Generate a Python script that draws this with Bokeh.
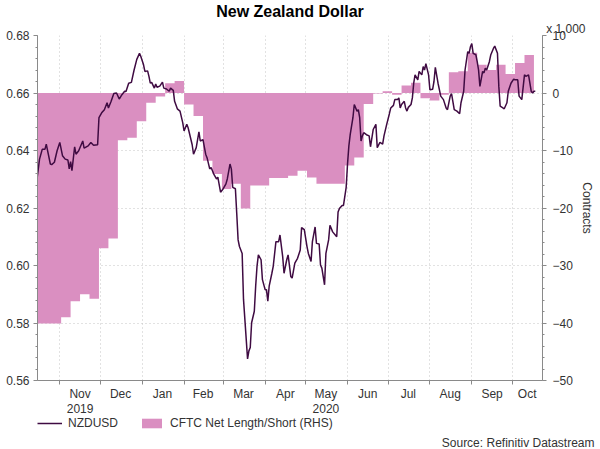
import numpy as np
import pandas as pd
from bokeh.plotting import figure
from bokeh.layouts import column
from bokeh.models import (Range1d, LinearAxis, DatetimeAxis, FixedTicker, Title,
                          Legend, LegendItem, PrintfTickFormatter)
from bokeh.embed import file_html
from bokeh.resources import INLINE

# ---------------- data ----------------
nzd_dates = [
    "2019-10-15", "2019-10-17", "2019-10-19", "2019-10-21", "2019-10-22", "2019-10-23", "2019-10-25",
    "2019-10-26", "2019-10-28", "2019-10-30", "2019-11-01", "2019-11-03", "2019-11-05", "2019-11-07",
    "2019-11-08", "2019-11-09", "2019-11-10", "2019-11-12", "2019-11-13", "2019-11-15", "2019-11-18",
    "2019-11-19", "2019-11-22", "2019-11-24", "2019-11-26", "2019-11-29", "2019-11-30", "2019-12-02",
    "2019-12-04", "2019-12-06", "2019-12-07", "2019-12-09", "2019-12-11", "2019-12-13", "2019-12-15",
    "2019-12-17", "2019-12-19", "2019-12-20", "2019-12-22", "2019-12-24", "2019-12-26", "2019-12-28",
    "2019-12-30", "2019-12-31", "2020-01-02", "2020-01-03", "2020-01-05", "2020-01-06", "2020-01-07",
    "2020-01-08", "2020-01-10", "2020-01-11", "2020-01-12", "2020-01-14", "2020-01-16", "2020-01-17",
    "2020-01-19", "2020-01-21", "2020-01-22", "2020-01-24", "2020-01-25", "2020-01-27", "2020-01-29",
    "2020-01-31", "2020-02-01", "2020-02-03", "2020-02-04", "2020-02-07", "2020-02-08", "2020-02-10",
    "2020-02-12", "2020-02-13", "2020-02-15", "2020-02-17", "2020-02-18", "2020-02-20", "2020-02-21",
    "2020-02-23", "2020-02-25", "2020-02-26", "2020-02-28", "2020-03-01", "2020-03-03", "2020-03-04",
    "2020-03-06", "2020-03-07", "2020-03-08", "2020-03-10", "2020-03-11", "2020-03-12", "2020-03-13",
    "2020-03-15", "2020-03-16", "2020-03-18", "2020-03-19", "2020-03-20", "2020-03-21", "2020-03-22",
    "2020-03-24", "2020-03-25", "2020-03-26", "2020-03-27", "2020-03-29", "2020-03-30", "2020-04-01",
    "2020-04-02", "2020-04-03", "2020-04-04", "2020-04-06", "2020-04-07", "2020-04-09", "2020-04-11",
    "2020-04-12", "2020-04-14", "2020-04-15", "2020-04-17", "2020-04-18", "2020-04-20", "2020-04-21",
    "2020-04-23", "2020-04-25", "2020-04-27", "2020-04-28", "2020-04-30", "2020-05-02", "2020-05-03",
    "2020-05-05", "2020-05-06", "2020-05-08", "2020-05-09", "2020-05-11", "2020-05-12", "2020-05-13",
    "2020-05-15", "2020-05-16", "2020-05-18", "2020-05-19", "2020-05-21", "2020-05-24", "2020-05-25",
    "2020-05-26", "2020-05-28", "2020-05-29", "2020-05-31", "2020-06-01", "2020-06-02", "2020-06-03",
    "2020-06-05", "2020-06-06", "2020-06-08", "2020-06-09", "2020-06-10", "2020-06-11", "2020-06-12",
    "2020-06-13", "2020-06-15", "2020-06-17", "2020-06-18", "2020-06-20", "2020-06-22", "2020-06-23",
    "2020-06-25", "2020-06-27", "2020-06-28", "2020-06-30", "2020-07-02", "2020-07-03", "2020-07-05",
    "2020-07-06", "2020-07-08", "2020-07-09", "2020-07-10", "2020-07-11", "2020-07-13", "2020-07-14",
    "2020-07-15", "2020-07-16", "2020-07-18", "2020-07-19", "2020-07-20", "2020-07-21", "2020-07-23",
    "2020-07-24", "2020-07-26", "2020-07-27", "2020-07-28", "2020-07-29", "2020-07-31", "2020-08-01",
    "2020-08-03", "2020-08-04", "2020-08-05", "2020-08-07", "2020-08-09", "2020-08-11", "2020-08-13",
    "2020-08-14", "2020-08-16", "2020-08-17", "2020-08-19", "2020-08-21", "2020-08-23", "2020-08-24",
    "2020-08-26", "2020-08-27", "2020-08-29", "2020-08-30", "2020-08-31", "2020-09-01", "2020-09-02",
    "2020-09-04", "2020-09-05", "2020-09-06", "2020-09-07", "2020-09-09", "2020-09-10", "2020-09-11",
    "2020-09-12", "2020-09-14", "2020-09-15", "2020-09-17", "2020-09-18", "2020-09-20", "2020-09-21",
    "2020-09-22", "2020-09-24", "2020-09-25", "2020-09-27", "2020-09-28", "2020-09-30", "2020-10-02",
    "2020-10-03", "2020-10-05", "2020-10-06", "2020-10-07", "2020-10-08", "2020-10-10", "2020-10-11",
    "2020-10-13", "2020-10-15", "2020-10-16", "2020-10-17", "2020-10-18",
]
nzd_values = [
    0.6296, 0.6370, 0.6404, 0.6404, 0.6422, 0.6399, 0.6353,
    0.6351, 0.6359, 0.6399, 0.6428, 0.6382, 0.6370, 0.6367,
    0.6336, 0.6361, 0.6330, 0.6413, 0.6387, 0.6399, 0.6433,
    0.6408, 0.6416, 0.6428, 0.6418, 0.6420, 0.6514, 0.6531,
    0.6542, 0.6566, 0.6548, 0.6571, 0.6598, 0.6600, 0.6579,
    0.6594, 0.6606, 0.6605, 0.6634, 0.6637, 0.6680, 0.6717,
    0.6738, 0.6727, 0.6698, 0.6675, 0.6677, 0.6658, 0.6634,
    0.6637, 0.6617, 0.6631, 0.6620, 0.6624, 0.6638, 0.6617,
    0.6614, 0.6606, 0.6617, 0.6609, 0.6571, 0.6545, 0.6537,
    0.6497, 0.6468, 0.6491, 0.6479, 0.6420, 0.6387, 0.6410,
    0.6465, 0.6433, 0.6438, 0.6387, 0.6375, 0.6336, 0.6341,
    0.6318, 0.6301, 0.6307, 0.6255, 0.6267, 0.6284, 0.6301,
    0.6353, 0.6336, 0.6272, 0.6267, 0.6180, 0.6089, 0.6066,
    0.6042, 0.5882, 0.5744, 0.5675, 0.5703, 0.5715, 0.5801,
    0.5841, 0.5928, 0.5997, 0.6037, 0.6020, 0.5951, 0.5916,
    0.5916, 0.5876, 0.5928, 0.5973, 0.5997, 0.6083, 0.6083,
    0.6106, 0.6031, 0.5973, 0.6020, 0.6037, 0.5962, 0.5956,
    0.6008, 0.6025, 0.6054, 0.6132, 0.6125, 0.6066, 0.6042,
    0.6014, 0.6083, 0.6134, 0.6077, 0.6075, 0.6002, 0.5991,
    0.5933, 0.6042, 0.6089, 0.6140, 0.6117, 0.6100, 0.6186,
    0.6198, 0.6209, 0.6209, 0.6272, 0.6353, 0.6416, 0.6456,
    0.6514, 0.6560, 0.6537, 0.6542, 0.6514, 0.6433, 0.6451,
    0.6462, 0.6455, 0.6451, 0.6413, 0.6473, 0.6491, 0.6410,
    0.6428, 0.6422, 0.6451, 0.6491, 0.6528, 0.6548, 0.6557,
    0.6577, 0.6577, 0.6583, 0.6548, 0.6560, 0.6571, 0.6548,
    0.6537, 0.6550, 0.6560, 0.6583, 0.6634, 0.6663, 0.6646,
    0.6675, 0.6663, 0.6692, 0.6680, 0.6702, 0.6663, 0.6611,
    0.6613, 0.6640, 0.6689, 0.6634, 0.6589, 0.6577, 0.6548,
    0.6542, 0.6589, 0.6598, 0.6542, 0.6537, 0.6528, 0.6566,
    0.6606, 0.6680, 0.6744, 0.6738, 0.6761, 0.6772, 0.6738,
    0.6733, 0.6709, 0.6680, 0.6623, 0.6675, 0.6670, 0.6686,
    0.6680, 0.6709, 0.6732, 0.6755, 0.6763, 0.6738, 0.6623,
    0.6554, 0.6548, 0.6545, 0.6566, 0.6606, 0.6634, 0.6648,
    0.6646, 0.6646, 0.6589, 0.6583, 0.6577, 0.6663, 0.6658,
    0.6663, 0.6606, 0.6600, 0.6606, 0.6606,
]

# CFTC net length/short, thousands of contracts, weekly (value holds until next date)
cftc_dates = [
    "2019-10-12", "2019-10-19", "2019-10-26", "2019-11-02", "2019-11-09", "2019-11-16", "2019-11-23",
    "2019-11-30", "2019-12-07", "2019-12-14", "2019-12-21", "2019-12-28", "2020-01-04", "2020-01-11",
    "2020-01-18", "2020-01-25", "2020-02-01", "2020-02-08", "2020-02-15", "2020-02-22", "2020-02-29",
    "2020-03-07", "2020-03-14", "2020-03-21", "2020-03-28", "2020-04-04", "2020-04-11", "2020-04-18",
    "2020-04-25", "2020-05-02", "2020-05-09", "2020-05-16", "2020-05-23", "2020-05-30", "2020-06-06",
    "2020-06-13", "2020-06-20", "2020-06-27", "2020-07-04", "2020-07-11", "2020-07-18", "2020-07-25",
    "2020-08-01", "2020-08-08", "2020-08-15", "2020-08-22", "2020-08-29", "2020-09-05", "2020-09-12",
    "2020-09-19", "2020-09-26", "2020-10-03", "2020-10-10", "2020-10-17",
]
cftc_values = [
    -40.1, -40.1, -40.1, -39.0, -36.2, -35.0, -35.8,
    -27.0, -25.3, -8.2, -7.8, -4.9, -1.7, -0.6,
    1.7, 2.1, -2.0, -4.0, -11.8, -14.1, -16.7,
    -15.8, -20.1, -16.1, -16.1, -14.8, -14.8, -14.4,
    -13.5, -14.7, -15.8, -15.8, -15.8, -12.6, -11.2,
    -1.9, -0.1, 0.3, -0.3, 1.3, 1.8, -0.9,
    -1.3, -0.3, 3.6, 3.8, 7.0, 4.9, 4.0,
    4.9, 3.3, 5.2, 6.6, 6.6,
]

month_labels = ["Nov", "Dec", "Jan", "Feb", "Mar", "Apr", "May", "Jun", "Jul", "Aug", "Sep", "Oct"]
month_label_dates = ["2019-11-16", "2019-12-16", "2020-01-16", "2020-02-15", "2020-03-16", "2020-04-16",
                     "2020-05-16", "2020-06-16", "2020-07-16", "2020-08-16", "2020-09-16", "2020-10-12"]
year_labels = ["2019", "2020"]
year_label_dates = ["2019-11-16", "2020-05-16"]
left_ticks = [0.56, 0.58, 0.60, 0.62, 0.64, 0.66, 0.68]
right_ticks = [-50, -40, -30, -20, -10, 0, 10]

# ---------------- styling ----------------
FONT = "Liberation Sans"
PINK = "#da8fc1"
PURPLE = "#3f0b42"
AXIS = "#8a8a8a"
TXT = "#333333"
GRID = "#c4c4c4"


def to_ms(ts):
    ts = pd.to_datetime(ts)
    return [float(v) for v in ((ts - pd.Timestamp("1970-01-01")) // pd.Timedelta("1ms"))]


nzd_dt = pd.to_datetime(nzd_dates)
cftc_dt = pd.to_datetime(cftc_dates)

# ---- main chart ----
p = figure(width=600, height=416, x_axis_type="datetime", output_backend="svg", toolbar_location=None,
           x_range=Range1d(pd.Timestamp("2019-10-15 12:00"), pd.Timestamp("2020-10-23 08:00")),
           y_range=Range1d(0.56, 0.68),
           min_border_left=37, min_border_right=58, min_border_top=32, min_border_bottom=36)
p.outline_line_color = None
p.extra_y_ranges = {"cftc": Range1d(-50, 10)}

p.title.text = "New Zealand Dollar"
p.title.align = "center"
p.title.text_font = FONT
p.title.text_font_size = "16px"
p.title.text_font_style = "bold"
p.title.text_color = "black"
p.title.standoff = 0
p.title.text_line_height = 0.85
p.add_layout(Title(text="x 1,000", align="right", offset=-43, standoff=0, text_font=FONT,
                   text_font_size="12px", text_font_style="normal", text_color=TXT,
                   text_line_height=0.9), "above")

area = p.varea_step(x=cftc_dt, y1=0, y2=cftc_values, step_mode="after", fill_color=PINK,
                    y_range_name="cftc")
line = p.line(nzd_dt, nzd_values, line_color=PURPLE, line_width=1.5)

month_starts = pd.date_range("2019-11-01", "2020-10-01", freq="MS")
mid_ms = to_ms(month_label_dates)
p.xaxis.ticker = FixedTicker(ticks=mid_ms, minor_ticks=to_ms(month_starts))
p.xaxis.major_label_overrides = {m: lab for m, lab in zip(mid_ms, month_labels)}
p.xgrid.ticker = FixedTicker(ticks=to_ms(month_starts))

yr_ms = to_ms(year_label_dates)
year_axis = DatetimeAxis(ticker=FixedTicker(ticks=yr_ms, minor_ticks=[]),
                         major_label_overrides={m: lab for m, lab in zip(yr_ms, year_labels)})
p.add_layout(year_axis, "below")

p.yaxis.ticker = FixedTicker(ticks=left_ticks,
                             minor_ticks=list(np.round(np.arange(0.56, 0.6801, 0.004), 4)))
p.yaxis.formatter = PrintfTickFormatter(format="%.2f")
p.ygrid.ticker = FixedTicker(ticks=left_ticks)

raxis = LinearAxis(y_range_name="cftc",
                   ticker=FixedTicker(ticks=right_ticks, minor_ticks=list(range(-50, 11, 2))),
                   axis_label="Contracts")
p.add_layout(raxis, "right")

for ax in [p.xaxis[0], p.yaxis[0], raxis, year_axis]:
    ax.axis_line_color = AXIS
    ax.major_tick_line_color = AXIS
    ax.minor_tick_line_color = AXIS
    ax.major_tick_in = 0
    ax.major_tick_out = 4
    ax.minor_tick_in = 0
    ax.minor_tick_out = 2
    ax.major_label_text_font = FONT
    ax.major_label_text_color = TXT
    ax.major_label_text_font_size = "12px"
    ax.axis_label_text_font = FONT
    ax.axis_label_text_color = TXT
    ax.axis_label_text_font_style = "normal"
    ax.axis_label_text_font_size = "12px"
p.xaxis[0].major_tick_out = 0
p.xaxis[0].minor_tick_out = 4
p.xaxis[0].major_label_standoff = 2
year_axis.axis_line_color = None
year_axis.major_tick_line_color = None
year_axis.minor_tick_line_color = None
year_axis.major_tick_out = 0
year_axis.minor_tick_out = 0
year_axis.major_label_standoff = 0
p.yaxis[0].major_label_standoff = 4
raxis.major_label_standoff = 6
raxis.axis_label_standoff = 4

for g in [p.xgrid[0], p.ygrid[0]]:
    g.grid_line_color = GRID
    g.grid_line_dash = "1 3"

# ---- footer: legend and source ----
# The footer's ranges lie far from the data, so these two renderers only serve as legend keys.
foot = figure(width=600, height=33, output_backend="svg", toolbar_location=None,
              x_range=Range1d(0, 1), y_range=Range1d(0, 1),
              x_axis_location=None, y_axis_location=None,
              min_border_left=37, min_border_right=58, min_border_top=0, min_border_bottom=0)
foot.outline_line_color = None
foot.grid.visible = False
leg_line = foot.line(nzd_dt, nzd_values, line_color=PURPLE, line_width=1.5)
leg_area = foot.varea_step(x=cftc_dt, y1=0, y2=cftc_values, step_mode="after", fill_color=PINK)
legend = Legend(items=[LegendItem(label="NZDUSD", renderers=[leg_line]),
                       LegendItem(label="CFTC Net Length/Short (RHS)", renderers=[leg_area])],
                location="top_left", orientation="horizontal", padding=4, margin=0, spacing=21,
                glyph_width=25, glyph_height=12, label_standoff=6, border_line_color=None,
                background_fill_alpha=0, label_text_font=FONT, label_text_font_size="12px",
                label_text_color=TXT, label_height=14)
foot.add_layout(legend)
foot.add_layout(Title(text="Source: Refinitiv Datastream", align="right", offset=-52, standoff=0,
                      text_font=FONT, text_font_size="12px", text_font_style="normal", text_color=TXT),
                "below")

layout = column(p, foot, spacing=0)
open("out.html", "w").write(file_html(layout, INLINE))
